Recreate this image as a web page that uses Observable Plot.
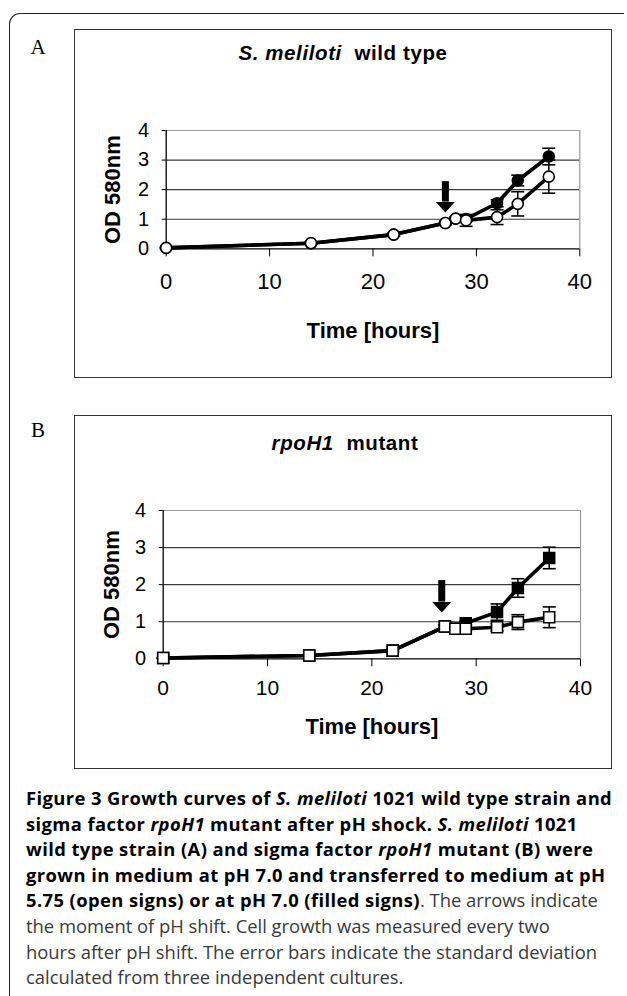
<!DOCTYPE html>
<html><head><meta charset="utf-8">
<script src="https://cdn.jsdelivr.net/npm/d3@7"></script>
<script src="https://cdn.jsdelivr.net/npm/@observablehq/plot@0.6"></script>
<style>
html,body{margin:0;padding:0;background:#fff;}
#page{position:relative;width:627px;height:996px;overflow:hidden;font-family:"Liberation Sans",Arial,sans-serif;}
.frame{position:absolute;left:9px;top:13px;width:614px;height:1000px;border-top:1.5px solid #222;border-left:1.5px solid #222;border-top-left-radius:11px;}
.box{position:absolute;left:74px;width:538px;border:1.5px solid #333;box-sizing:border-box;}
.letter{position:absolute;font-family:"Liberation Serif","Times New Roman",serif;font-size:21px;color:#000;transform:translate(-50%,-50%);}
.ptitle{position:absolute;font-weight:bold;font-size:20.5px;letter-spacing:0.6px;white-space:nowrap;transform:translate(-50%,-50%);color:#000;}
.plot{position:absolute;left:74px;}
.cap{position:absolute;left:26px;top:785px;font-family:"Open Sans",sans-serif;font-size:18.4px;line-height:25.6px;color:#3a3a3a;white-space:nowrap;}
.cap b{color:#000;letter-spacing:0.4px;}
svg [aria-label="x-axis label"], svg [aria-label="y-axis label"]{font-size:22px;font-weight:bold;}
</style>
</head><body>
<div id="page">
  <div class="frame"></div>
  <div class="box" style="top:29px;height:349px;"></div>
  <div class="box" style="top:415px;height:354px;"></div>
  <div class="letter" style="left:38px;top:47px;">A</div>
  <div class="letter" style="left:38px;top:430px;">B</div>
  <div class="ptitle" style="left:343px;top:53px;"><i>S. meliloti</i>&nbsp; wild type</div>
  <div class="ptitle" style="left:345px;top:443px;"><i>rpoH1</i>&nbsp; mutant</div>
  <div id="plotA" class="plot" style="top:29px;"></div>
  <div id="plotB" class="plot" style="top:415px;"></div>
  <div class="cap">
    <b>Figure 3 Growth curves of <i>S. meliloti</i> 1021 wild type strain and</b><br>
    <b>sigma factor <i>rpoH1</i> mutant after pH shock. <i>S. meliloti</i> 1021</b><br>
    <b>wild type strain (A) and sigma factor <i>rpoH1</i> mutant (B) were</b><br>
    <b>grown in medium at pH 7.0 and transferred to medium at pH</b><br>
    <b>5.75 (open signs) or at pH 7.0 (filled signs)</b>. The arrows indicate<br>
    the moment of pH shift. Cell growth was measured every two<br>
    hours after pH shift. The error bars indicate the standard deviation<br>
    calculated from three independent cultures.
  </div>
</div>
<script>
// ---- data ----
const times = [0, 14, 22, 27, 28, 29, 32, 34, 37];
// Panel A: S. meliloti wild type
const openA      = [0.03, 0.19, 0.48, 0.87, 1.02, 0.96, 1.07, 1.52, 2.44];
const openErrA   = [0.02, 0.03, 0.05, 0.05, 0.05, 0.20, 0.25, 0.41, 0.56];
const filledA    = [0.03, 0.19, 0.48, 0.87, 1.02, 1.01, 1.54, 2.31, 3.12];
const filledErrA = [0.02, 0.03, 0.05, 0.05, 0.05, 0.08, 0.12, 0.18, 0.28];
// Panel B: rpoH1 mutant
const openB      = [0.02, 0.09, 0.22, 0.87, 0.81, 0.81, 0.85, 0.99, 1.12];
const openErrB   = [0.01, 0.02, 0.03, 0.04, 0.04, 0.04, 0.10, 0.20, 0.28];
const filledB    = [0.02, 0.09, 0.22, 0.87, 0.81, 0.96, 1.26, 1.91, 2.72];
const filledErrB = [0.01, 0.02, 0.03, 0.04, 0.04, 0.05, 0.22, 0.25, 0.29];
// arrows marking the pH shift: [x, top, head base]
const arrowA = [27, 2.27, 1.58];
const arrowB = [26.7, 2.11, 1.53];
const xTicks = [0, 10, 20, 30, 40];
const yTicks = [0, 1, 2, 3, 4];

const capSym = {draw(ctx, size){const r = Math.sqrt(size/Math.PI); ctx.moveTo(-r,0); ctx.lineTo(r,0);}};
const headSym = {draw(ctx, size){const r = Math.sqrt(size/Math.PI); ctx.moveTo(-r,0); ctx.lineTo(r,0); ctx.lineTo(0,r*1.1); ctx.closePath();}};

function rows(v, e){ return times.map((t,i)=>({t, v:v[i], e:e[i]})); }

function panel({open, openErr, filled, filledErr, arrow, symbol, r, dims}){
  const O = rows(open, openErr), F = rows(filled, filledErr);
  const errMarks = (D) => [
    Plot.ruleX(D, {x:"t", y1:d=>d.v-d.e, y2:d=>d.v+d.e, stroke:"black", strokeWidth:1.5}),
    Plot.dot(D, {x:"t", y:d=>d.v-d.e, symbol:capSym, r:6.5, fill:"none", stroke:"black", strokeWidth:1.6}),
    Plot.dot(D, {x:"t", y:d=>d.v+d.e, symbol:capSym, r:6.5, fill:"none", stroke:"black", strokeWidth:1.6})
  ];
  return Plot.plot({
    width: dims.w, height: dims.h,
    marginLeft: dims.ml, marginRight: dims.mr, marginTop: dims.mt, marginBottom: dims.mb,
    style: {fontFamily:'"Liberation Sans", Arial, sans-serif', color:"black", background:"transparent", overflow:"visible"},
    x: {domain:[0,40]},
    y: {domain:[0,4]},
    marks: [
      Plot.axisX(xTicks, {tickSize:8, tickPadding:dims.xpad, fontSize:dims.xfs, tickFormat:d3.format("d"),
        label:"Time [hours]", labelAnchor:"center", labelArrow:"none", labelOffset:dims.xlo}),
      Plot.axisY(yTicks, {tickSize:4, tickPadding:13, fontSize:dims.yfs, tickFormat:d3.format("d"),
        label:"OD 580nm", labelAnchor:"center", labelArrow:"none", labelOffset:dims.ylo}),
      Plot.ruleY([1,2,3], {stroke:"#3a3a3a", strokeWidth:1.1}),
      Plot.ruleY([4], {stroke:"#999", strokeWidth:1.2}),
      Plot.ruleX([40], {y1:0, y2:4, stroke:"#999", strokeWidth:1.2}),
      Plot.ruleX([0], {y1:0, y2:4, stroke:"black", strokeWidth:1.3}),
      Plot.ruleY([0], {stroke:"black", strokeWidth:1.3}),
      ...errMarks(F),
      Plot.line(F, {x:"t", y:"v", stroke:"black", strokeWidth:3.6}),
      Plot.dot(F, {x:"t", y:"v", symbol, r, fill:"black", stroke:"black", strokeWidth:1.5}),
      ...errMarks(O),
      Plot.line(O, {x:"t", y:"v", stroke:"black", strokeWidth:3.6}),
      Plot.dot(O, {x:"t", y:"v", symbol, r, fill:"white", stroke:"black", strokeWidth:1.6}),
      Plot.ruleX([arrow], {x:d=>d[0], y1:d=>d[1], y2:d=>d[2], stroke:"black", strokeWidth:7}),
      Plot.dot([arrow], {x:d=>d[0], y:d=>d[2], symbol:headSym, r:9.5, fill:"black", stroke:"none"})
    ]
  });
}

document.getElementById("plotA").append(panel({
  open:openA, openErr:openErrA, filled:filledA, filledErr:filledErrA, arrow:arrowA,
  symbol:"circle", r:5.5,
  dims:{w:538, h:349, ml:91.7, mr:32.7, mt:101, mb:129.7, xpad:17, xlo:89, ylo:62, xfs:22, yfs:20}
}));
document.getElementById("plotB").append(panel({
  open:openB, openErr:openErrB, filled:filledB, filledErr:filledErrB, arrow:arrowB,
  symbol:"square", r:6.2,
  dims:{w:538, h:354, ml:88.7, mr:32, mt:95, mb:110.7, xpad:13, xlo:75, ylo:60, xfs:21, yfs:20}
}));
</script>
</body></html>
